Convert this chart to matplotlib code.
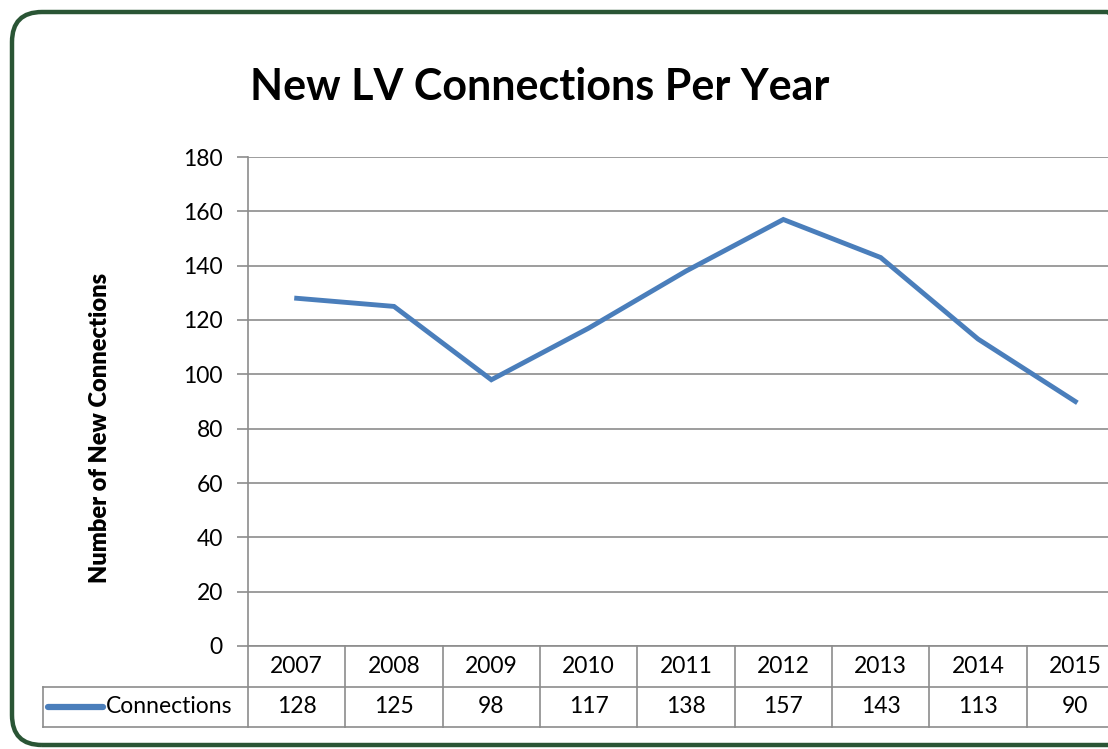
import numpy as np
import matplotlib.pyplot as plt
from matplotlib.patches import FancyBboxPatch

## Data ##
years = ['2007', '2008', '2009', '2010', '2011', '2012', '2013', '2014', '2015']
connections = [128, 125, 98, 117, 138, 157, 143, 113, 90]
series_name = 'Connections'

## Style ##
plt.rcParams['font.family'] = ['Lato', 'DejaVu Sans']
W, H = 1108, 749
blue = '#4a7ebb'
grid = '#8c8c8c'
green = '#2a5535'
fs = 16.5

fig = plt.figure(figsize=(W / 100, H / 100), dpi=100)

# rounded outer frame in pixels (its right side is cut off like the original)
frame = FancyBboxPatch((12, 4), 1125, 733,
                       boxstyle='round,pad=0,rounding_size=30',
                       transform=None, fill=False,
                       edgecolor=green, linewidth=3.2)
fig.patches.append(frame)

# plot area (runs past the right edge like the original crop)
x0, x1, y_top, y_bot = 248, 1124, 157, 646
ax = fig.add_axes([x0 / W, (H - y_bot) / H, (x1 - x0) / W, (y_bot - y_top) / H])
x = np.arange(len(years))
ax.plot(x, connections, color=blue, linewidth=3.5, solid_joinstyle='miter')
ax.set_xlim(-0.5, len(years) - 0.5)
ax.set_ylim(0, 180)
ax.set_yticks(np.arange(0, 181, 20))
ax.set_xticks([])
ax.yaxis.grid(True, color=grid, linewidth=1.2)
ax.set_axisbelow(True)
for s in ['top', 'right']:
    ax.spines[s].set_visible(False)
for s in ['left', 'bottom']:
    ax.spines[s].set_color(grid)
    ax.spines[s].set_linewidth(1.2)
ax.tick_params(axis='y', length=8, width=1.2, color=grid, pad=10, labelsize=fs)

fig.text(540 / W, 1 - 87 / H, 'New LV Connections Per Year', ha='center', va='center',
         fontsize=31, fontweight='bold')
fig.text(100 / W, 1 - 428 / H, 'Number of New Connections', ha='center', va='center',
         rotation=90, fontsize=17, fontweight='heavy')

## Data table ##
row_h = 40.5 / (y_bot - y_top)          # one table row in axes fraction
col_w = (x1 - x0) / len(years)          # pixels per category
left_cell = -0.5 - (x0 - 43) / col_w    # legend cell left edge in data units
tr = ax.get_xaxis_transform()
kw = dict(color=grid, linewidth=1.2, transform=tr, clip_on=False)
for i in range(len(years) + 1):
    ax.plot([i - 0.5, i - 0.5], [0, -2 * row_h], **kw)
ax.plot([left_cell, len(years) - 0.5], [-row_h, -row_h], **kw)
ax.plot([left_cell, len(years) - 0.5], [-2 * row_h, -2 * row_h], **kw)
ax.plot([left_cell, left_cell], [-row_h, -2 * row_h], **kw)
for i, (yr, v) in enumerate(zip(years, connections)):
    ax.text(i, -0.5 * row_h, yr, transform=tr, ha='center', va='center', fontsize=fs)
    ax.text(i, -1.5 * row_h, str(v), transform=tr, ha='center', va='center', fontsize=fs)
# legend key inside the row header
key_l = left_cell + 5 / col_w
key_r = left_cell + 60 / col_w
ax.plot([key_l, key_r], [-1.5 * row_h] * 2, color=blue, linewidth=4.5,
        solid_capstyle='round', transform=tr, clip_on=False)
ax.text(key_r + 3 / col_w, -1.5 * row_h, series_name, transform=tr,
        ha='left', va='center', fontsize=fs)

fig.savefig('out.png', dpi=100)
